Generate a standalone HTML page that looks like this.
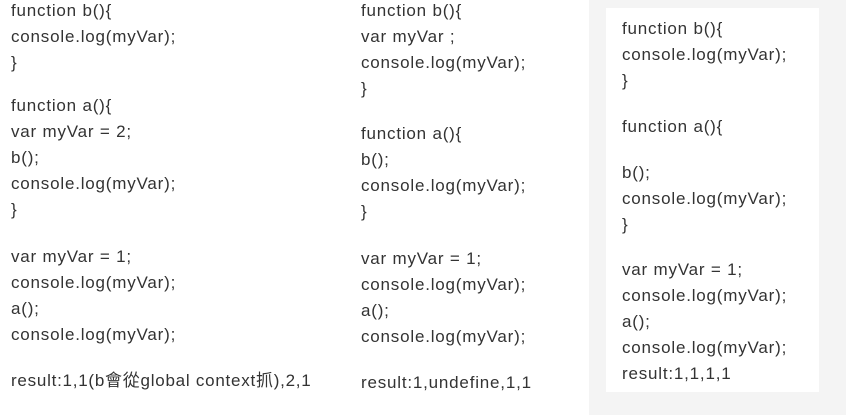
<!DOCTYPE html>
<html><head><meta charset="utf-8"><style>
body{margin:0;width:846px;height:415px;background:#fff;position:relative;overflow:hidden;font-family:"Liberation Sans","Noto Sans CJK TC",sans-serif;font-size:17px;letter-spacing:0.8px;color:#333;}
.l{position:absolute;line-height:26px;white-space:nowrap;margin-top:1px;}
#g{position:absolute;left:589px;top:0;width:257px;height:415px;background:#f4f4f4;}
#w{position:absolute;left:606px;top:8px;width:213px;height:384px;background:#fff;}
</style></head><body>
<div id="g"></div><div id="w"></div>
<div class="l" style="left:11px;top:-3px">function b(){</div>
<div class="l" style="left:11px;top:23px">console.log(myVar);</div>
<div class="l" style="left:11px;top:49px">}</div>
<div class="l" style="left:11px;top:92px">function a(){</div>
<div class="l" style="left:11px;top:118px">var myVar = 2;</div>
<div class="l" style="left:11px;top:144px">b();</div>
<div class="l" style="left:11px;top:170px">console.log(myVar);</div>
<div class="l" style="left:11px;top:196px">}</div>
<div class="l" style="left:11px;top:243px">var myVar = 1;</div>
<div class="l" style="left:11px;top:269px">console.log(myVar);</div>
<div class="l" style="left:11px;top:295px">a();</div>
<div class="l" style="left:11px;top:321px">console.log(myVar);</div>
<div class="l" style="left:11px;top:367px;letter-spacing:0.75px">result:1,1(b會從global context抓),2,1</div>

<div class="l" style="left:361px;top:-3px">function b(){</div>
<div class="l" style="left:361px;top:23px">var myVar ;</div>
<div class="l" style="left:361px;top:49px">console.log(myVar);</div>
<div class="l" style="left:361px;top:75px">}</div>
<div class="l" style="left:361px;top:120px">function a(){</div>
<div class="l" style="left:361px;top:146px">b();</div>
<div class="l" style="left:361px;top:172px">console.log(myVar);</div>
<div class="l" style="left:361px;top:198px">}</div>
<div class="l" style="left:361px;top:245px">var myVar = 1;</div>
<div class="l" style="left:361px;top:271px">console.log(myVar);</div>
<div class="l" style="left:361px;top:297px">a();</div>
<div class="l" style="left:361px;top:323px">console.log(myVar);</div>
<div class="l" style="left:361px;top:369px">result:1,undefine,1,1</div>

<div class="l" style="left:622px;top:15px">function b(){</div>
<div class="l" style="left:622px;top:41px">console.log(myVar);</div>
<div class="l" style="left:622px;top:67px">}</div>
<div class="l" style="left:622px;top:113px">function a(){</div>
<div class="l" style="left:622px;top:159px">b();</div>
<div class="l" style="left:622px;top:185px">console.log(myVar);</div>
<div class="l" style="left:622px;top:211px">}</div>
<div class="l" style="left:622px;top:256px">var myVar = 1;</div>
<div class="l" style="left:622px;top:282px">console.log(myVar);</div>
<div class="l" style="left:622px;top:308px">a();</div>
<div class="l" style="left:622px;top:334px">console.log(myVar);</div>
<div class="l" style="left:622px;top:360px">result:1,1,1,1</div>
</body></html>
